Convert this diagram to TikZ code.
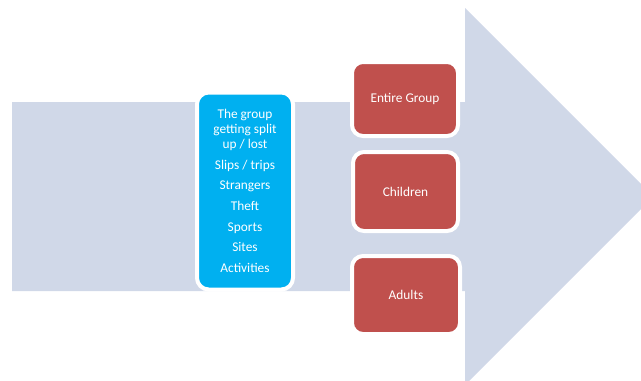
\documentclass[tikz,border=0pt]{standalone}
\usepackage{fontspec}
\setmainfont{Carlito}
\definecolor{shaftgray}{RGB}{208,216,232}
\definecolor{riskblue}{RGB}{0,176,240}
\definecolor{groupred}{RGB}{192,80,77}

\begin{document}
\begin{tikzpicture}[
    x=0.03cm, y=-0.03cm,
    risks/.style={draw=white, line width=0.12cm, rounded corners=0.35cm, fill=riskblue, text=white, align=center, minimum width=2.88cm, minimum height=5.91cm, inner sep=0pt, font=\fontsize{11.4}{12.8}\selectfont},
    who/.style={draw=white, line width=0.12cm, rounded corners=0.33cm, fill=groupred, text=white, align=center, inner sep=0pt, font=\fontsize{11.4}{13.5}\selectfont}
  ]
    \clip (0,0) rectangle (641,380);
    \fill[shaftgray] (12,102) -- (465,102) -- (465,8) -- (653.5,196.5) -- (465,385) -- (465,291) -- (12,291) -- cycle;

    \node[risks] (hazards) at (245,191) {The group\\getting split\\up / lost\\[4.8pt]Slips / trips\\[4.8pt]Strangers\\[4.8pt]Theft\\[4.8pt]Sports\\[4.8pt]Sites\\[4.8pt]Activities};

    \node[who, minimum width=3.18cm, minimum height=2.22cm] (entire) at (405,99) {Entire Group};
    \node[who, minimum width=3.15cm, minimum height=2.37cm] (children) at (405.5,191.5) {Children};
    \node[who, minimum width=3.24cm, minimum height=2.34cm] (adults) at (406,295) {Adults};
  \end{tikzpicture}
\end{document}
